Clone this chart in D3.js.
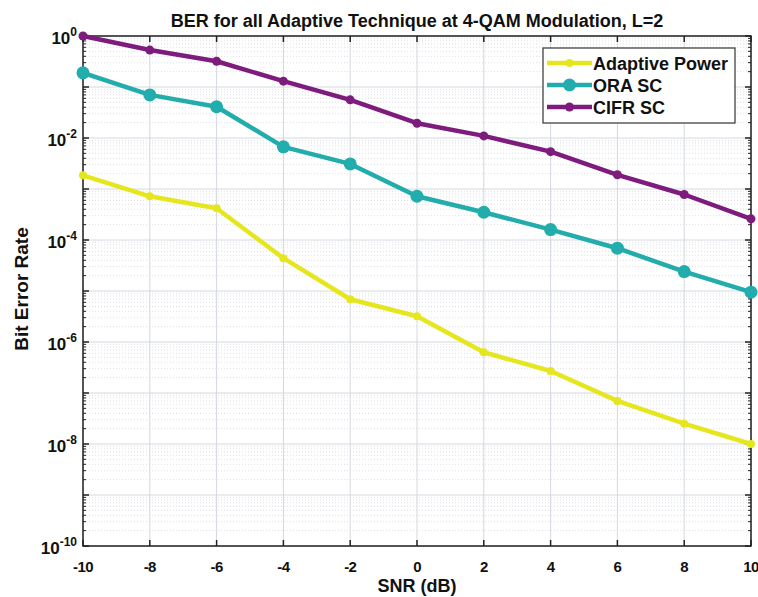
<!DOCTYPE html>
<html>
<head>
<meta charset="utf-8">
<script src="https://cdn.jsdelivr.net/npm/d3@7"></script>
<style>
  body { margin: 0; background: #fff; }
  svg text { font-family: "Liberation Sans", Arial, sans-serif; font-weight: bold; fill: #111; }
  .grid-major { stroke: #d4d8de; stroke-width: 1; }
  .grid-minor { stroke: #dde0e5; stroke-width: 1; stroke-dasharray: 1,2; }
</style>
</head>
<body>
<div id="chart"></div>
<script>
// SNR points (dB) and BER for each technique
const snr = [-10, -8, -6, -4, -2, 0, 2, 4, 6, 8, 10];
const adaptivePower = [1.85e-3, 7.2e-4, 4.2e-4, 4.4e-5, 6.9e-6, 3.2e-6, 6.3e-7, 2.7e-7, 7e-8, 2.5e-8, 1e-8];
const oraSC = [0.19, 0.07, 0.041, 6.7e-3, 3.1e-3, 7.2e-4, 3.5e-4, 1.6e-4, 6.9e-5, 2.4e-5, 9.5e-6];
const cifrSC = [1.0, 0.53, 0.32, 0.13, 0.056, 0.0195, 0.011, 0.0054, 0.0019, 7.8e-4, 2.6e-4];

const xTicks = [-10, -8, -6, -4, -2, 0, 2, 4, 6, 8, 10];
const yTicks = [1e0, 1e-2, 1e-4, 1e-6, 1e-8, 1e-10];

const series = [
    { name: 'Adaptive Power', values: adaptivePower, color: '#e6e61e', r: 4 },
    { name: 'ORA SC', values: oraSC, color: '#22acac', r: 6.5 },
    { name: 'CIFR SC', values: cifrSC, color: '#7e1c7e', r: 4.5 }
];

const width = 758, height = 597;
const margin = { top: 36, right: 7, bottom: 51, left: 83 };
const w = width - margin.left - margin.right;
const h = height - margin.top - margin.bottom;

const svg = d3.select('#chart').append('svg')
    .attr('width', width)
    .attr('height', height);

const g = svg.append('g')
    .attr('transform', `translate(${margin.left},${margin.top})`);

const xScale = d3.scaleLinear().domain([-10, 10]).range([0, w]);
const yScale = d3.scaleLog().domain([1e-10, 1]).range([h, 0]);

// Minor grid (2..9 within each decade)
const minor = [];
for (let e = -10; e < 0; e++) {
    for (let m = 2; m <= 9; m++) minor.push(m * Math.pow(10, e));
}

g.selectAll('.grid-minor-y')
    .data(minor)
    .join('line')
    .attr('class', 'grid-minor')
    .attr('x1', 0).attr('x2', w)
    .attr('y1', d => yScale(d)).attr('y2', d => yScale(d));

// Major grid
const majorY = d3.range(-10, 1).map(e => Math.pow(10, e));
g.selectAll('.grid-major-y')
    .data(majorY)
    .join('line')
    .attr('class', 'grid-major')
    .attr('x1', 0).attr('x2', w)
    .attr('y1', d => yScale(d)).attr('y2', d => yScale(d));

g.selectAll('.grid-major-x')
    .data(xTicks)
    .join('line')
    .attr('class', 'grid-major')
    .attr('x1', d => xScale(d)).attr('x2', d => xScale(d))
    .attr('y1', 0).attr('y2', h);

// Axes box
g.append('rect')
    .attr('width', w).attr('height', h)
    .attr('fill', 'none')
    .attr('stroke', '#222')
    .attr('stroke-width', 1.5);

// Ticks on all four sides
const tickLen = 6;
g.selectAll('.xtick-b').data(xTicks).join('line')
    .attr('x1', d => xScale(d)).attr('x2', d => xScale(d))
    .attr('y1', h).attr('y2', h - tickLen)
    .attr('stroke', '#222').attr('stroke-width', 1.5);
g.selectAll('.xtick-t').data(xTicks).join('line')
    .attr('x1', d => xScale(d)).attr('x2', d => xScale(d))
    .attr('y1', 0).attr('y2', tickLen)
    .attr('stroke', '#222').attr('stroke-width', 1.5);
[0, w].forEach(x0 => {
    const dir = x0 === 0 ? 1 : -1;
    g.selectAll(null).data(majorY).join('line')
        .attr('x1', x0).attr('x2', x0 + dir * tickLen)
        .attr('y1', d => yScale(d)).attr('y2', d => yScale(d))
        .attr('stroke', '#222').attr('stroke-width', 1.5);
    g.selectAll(null).data(minor).join('line')
        .attr('x1', x0).attr('x2', x0 + dir * 3)
        .attr('y1', d => yScale(d)).attr('y2', d => yScale(d))
        .attr('stroke', '#222').attr('stroke-width', 1);
});

// Tick labels
g.selectAll('.xlabel').data(xTicks).join('text')
    .attr('x', d => xScale(d))
    .attr('y', h + 26)
    .attr('text-anchor', 'middle')
    .attr('font-size', 15)
    .attr('letter-spacing', -0.6)
    .text(d => d);

const ylab = g.selectAll('.ylabel').data(yTicks).join('text')
    .attr('x', -6)
    .attr('y', d => yScale(d) + 8)
    .attr('text-anchor', 'end')
    .attr('font-size', 17);
ylab.append('tspan').text('10');
ylab.append('tspan')
    .attr('dy', -8)
    .attr('font-size', 12)
    .text(d => Math.round(Math.log10(d)));

// Lines and markers
const line = d3.line()
    .x((d, i) => xScale(snr[i]))
    .y(d => yScale(d));

series.forEach(s => {
    g.append('path')
        .datum(s.values)
        .attr('fill', 'none')
        .attr('stroke', s.color)
        .attr('stroke-width', 4.5)
        .attr('stroke-linejoin', 'round')
        .attr('d', line);
    g.selectAll(null)
        .data(s.values)
        .join('circle')
        .attr('cx', (d, i) => xScale(snr[i]))
        .attr('cy', d => yScale(d))
        .attr('r', s.r)
        .attr('fill', s.color);
});

// Legend
const legend = svg.append('g').attr('transform', 'translate(543,48)');
legend.append('rect')
    .attr('width', 192).attr('height', 75)
    .attr('fill', '#fff')
    .attr('stroke', '#333')
    .attr('stroke-width', 1.2);
series.forEach((s, i) => {
    const yy = 15 + i * 22;
    legend.append('line')
        .attr('x1', 4).attr('x2', 49)
        .attr('y1', yy).attr('y2', yy)
        .attr('stroke', s.color).attr('stroke-width', 4.5);
    legend.append('circle')
        .attr('cx', 26.5).attr('cy', yy).attr('r', s.r)
        .attr('fill', s.color);
    legend.append('text')
        .attr('x', 50).attr('y', yy + 6.5)
        .attr('font-size', 18)
        .text(s.name);
});

// Title and axis labels
svg.append('text')
    .attr('x', 417)
    .attr('y', 27)
    .attr('text-anchor', 'middle')
    .attr('font-size', 18)
    .text('BER for all Adaptive Technique at 4-QAM Modulation, L=2');

svg.append('text')
    .attr('x', margin.left + w / 2)
    .attr('y', 592)
    .attr('text-anchor', 'middle')
    .attr('font-size', 18)
    .text('SNR (dB)');

svg.append('text')
    .attr('transform', `translate(28,${margin.top + h / 2 - 2}) rotate(-90)`)
    .attr('text-anchor', 'middle')
    .attr('font-size', 19)
    .text('Bit Error Rate');
</script>
</body>
</html>
